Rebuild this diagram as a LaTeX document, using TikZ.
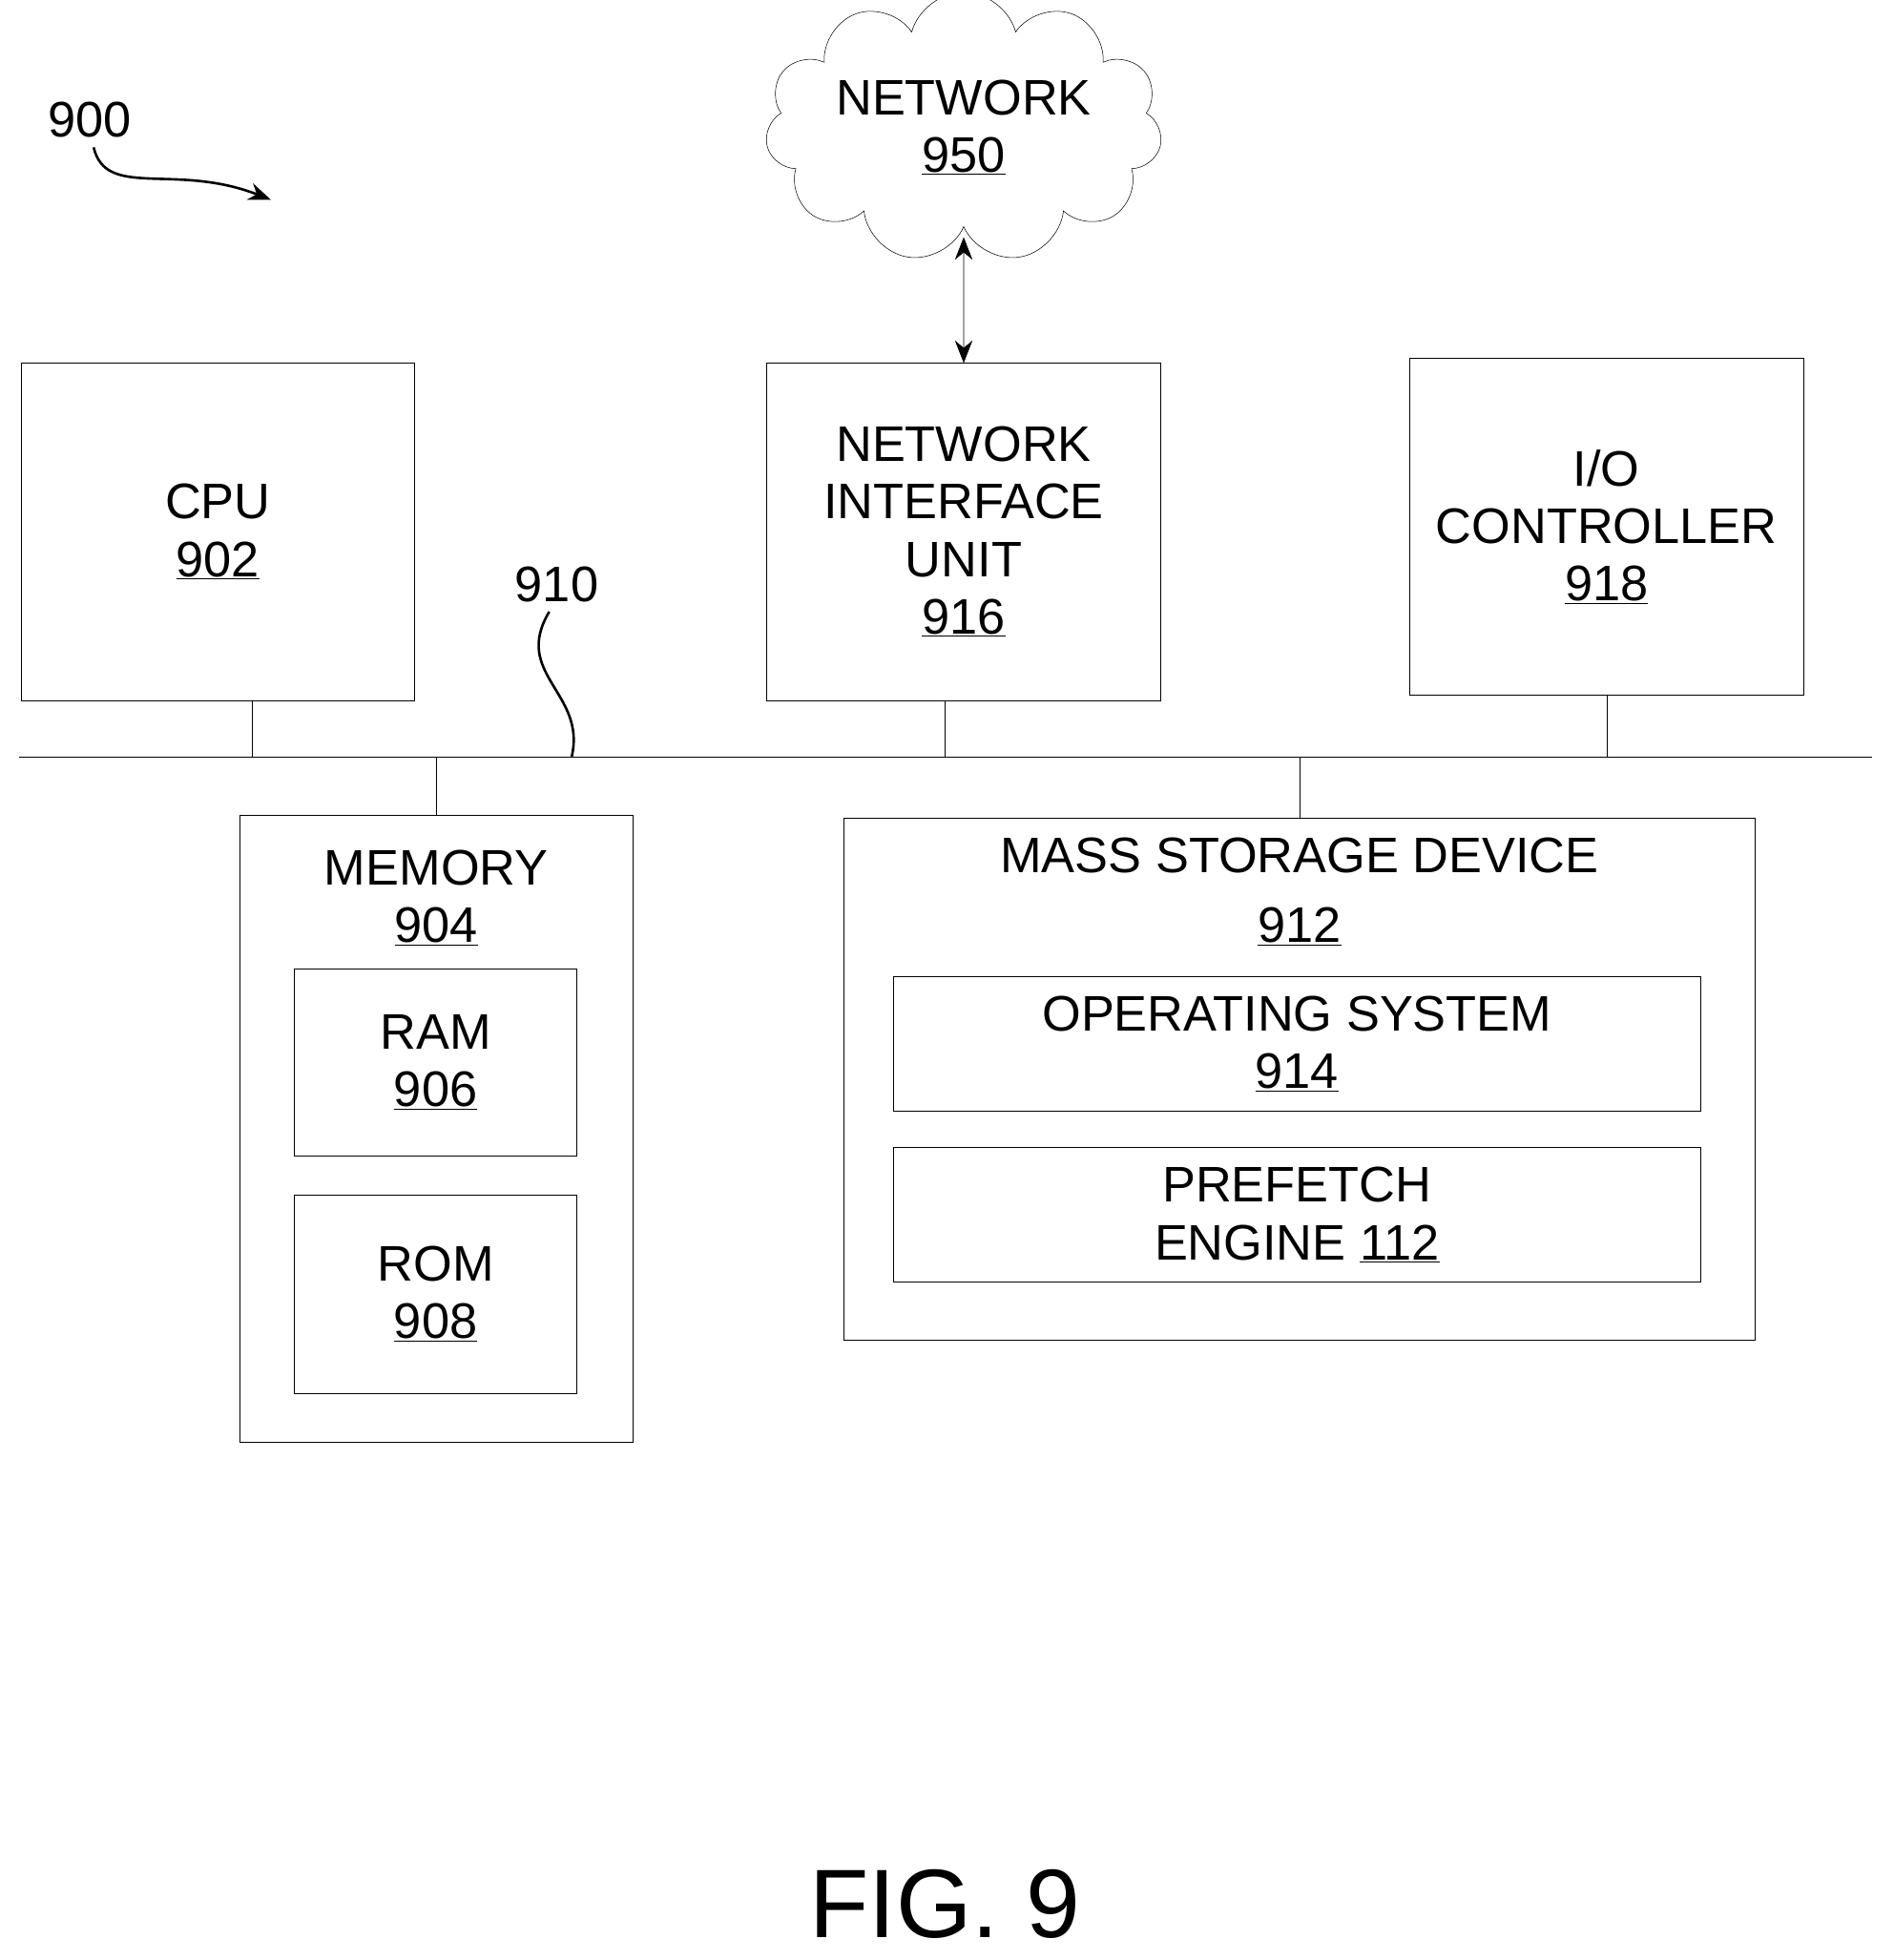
\documentclass[tikz,border=0pt]{standalone}
\usepackage{fontspec}
\setmainfont{Liberation Sans}
\usetikzlibrary{shapes.symbols,arrows.meta,positioning}
\tikzset{
  x=1pt, y=-1pt,
  line width=3pt,
  >={Stealth[length=18pt,width=14pt]},
  font=\fontsize{40}{46}\selectfont,
  box/.style={draw,rectangle,inner sep=0pt,align=center},
  label text/.style={align=center,inner sep=0pt}
}
\begin{document}
\begin{tikzpicture}
\useasboundingbox (0,0) rectangle (1517,1570);
% top row
\node[box,minimum width=315,minimum height=270] (cpu) at (174.5,426) {CPU\\\underline{902}};
\node[box,minimum width=316,minimum height=270] (niu) at (772,426) {NETWORK\\INTERFACE\\UNIT\\\underline{916}};
\node[box,minimum width=316,minimum height=270] (io) at (1287,422) {I/O\\CONTROLLER\\\underline{918}};
\node[cloud,draw,cloud puffs=11,aspect=1.8,minimum width=318,minimum height=175,align=center,inner sep=0pt] (net) at (772,102) {NETWORK\\\underline{950}};
\draw[<->] (net.south |- 0,190) coordinate (netb) -- (niu.north);
% bus
\coordinate (busL) at (15,606);
\coordinate (busR) at (1500,606);
\draw (busL) -- (busR);
\draw (202,561) -- (202,606);
\draw (niu.south -| 757,0) -- (757,606);
\draw (io.south) -- (io.south |- busL);
% memory
\node[box,minimum width=315,minimum height=502] (mem) at (349.5,904) {};
\node[label text] (memt) at (349.5,719) {MEMORY\\\underline{904}};
\node[box,minimum width=226,minimum height=150] (ram) at (349,851) {RAM\\\underline{906}};
\node[box,minimum width=226,minimum height=159] (rom) at (349,1036.5) {ROM\\\underline{908}};
\draw (mem.north) -- (mem.north |- busL);
% mass storage
\node[box,minimum width=730,minimum height=418] (msd) at (1041,864) {};
\node[label text] (msdt) at (1041,685) {MASS STORAGE DEVICE};
\node[label text] (msdn) at (1041,742) {\underline{912}};
\node[box,minimum width=646,minimum height=108] (os) at (1039,836) {OPERATING SYSTEM\\\underline{914}};
\node[box,minimum width=646,minimum height=108] (pf) at (1039,973) {PREFETCH\\ENGINE \underline{112}};
\draw (msd.north) -- (msd.north |- busL);
% reference labels
\node[label text] (l900) at (72,96) {900};
\draw[->,line width=2pt] (75,118) .. controls (85,160) and (140,130) .. (217,160);
\node[label text] (l910) at (446,468) {910};
\draw[line width=2pt] (440,490) .. controls (410,540) and (470,555) .. (458,606);
\node[label text,font=\fontsize{78}{80}\selectfont] (fig) at (757,1525) {FIG. 9};
\end{tikzpicture}
\end{document}
